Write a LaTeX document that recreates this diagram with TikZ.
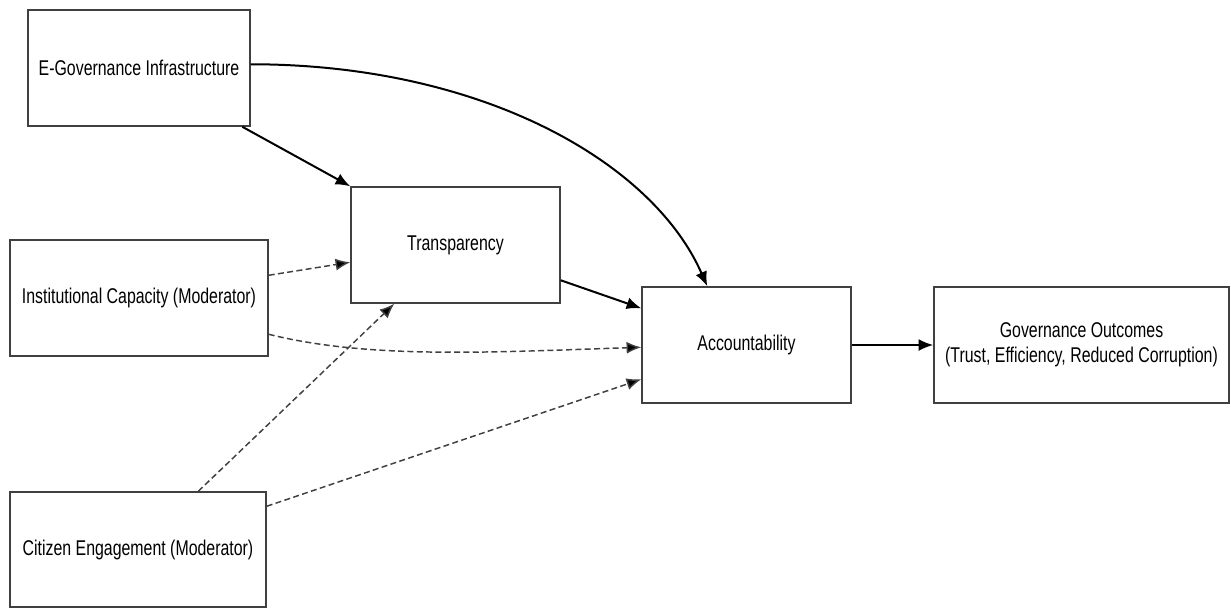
\documentclass[tikz,border=0pt]{standalone}
\usepackage{fontspec}
\setmainfont[FakeStretch=0.745]{Liberation Sans}
\usetikzlibrary{calc,arrows.meta}
\begin{document}
\begin{tikzpicture}[x=0.75pt,y=-0.75pt,
  box/.style={draw=black!75,line width=1.1pt,fill=white,inner sep=0pt,align=center,
    font=\fontsize{16}{19}\selectfont},
  solidarrow/.style={line width=1.5pt,-{Latex[length=11pt,width=9pt]}},
  dasharrow/.style={line width=1.1pt,draw=black!75,dash pattern=on 4.5pt off 2.5pt,
    -{Latex[length=11pt,width=9pt,fill=black]}}]
\useasboundingbox (0,0) rectangle (1231,608);
\node[box,minimum width=166.5pt,minimum height=87pt] (egov) at (139,68) {E-Governance Infrastructure};
\node[box,minimum width=156.75pt,minimum height=87pt] (trans) at (455.5,245) {Transparency};
\node[box,minimum width=193.5pt,minimum height=87pt] (inst) at (139,298) {Institutional Capacity (Moderator)};
\node[box,minimum width=156.75pt,minimum height=87pt] (acc) at (746.5,345) {Accountability};
\node[box,minimum width=221.25pt,minimum height=87pt] (out) at (1081.5,345) {Governance Outcomes\\(Trust, Efficiency, Reduced Corruption)};
\node[box,minimum width=192pt,minimum height=86.25pt] (cit) at (138,549.5) {Citizen Engagement (Moderator)};

\draw[solidarrow] ($(egov.south west)+(215,0)$) -- (trans.north west);
\draw[solidarrow] ($(egov.north east)+(0,55)$) .. controls +(230,0) and +(-55,-125) .. ($(acc.north west)+(66,0)$);
\draw[solidarrow] ($(trans.north east)+(0,94)$) -- ($(acc.north west)+(0,22)$);
\draw[solidarrow] (acc.east) -- (out.west);

\draw[dasharrow] ($(inst.north east)+(0,36)$) -- ($(trans.north west)+(0,76)$);
\draw[dasharrow] ($(inst.north east)+(0,95)$) .. controls +(100,25) and +(-150,5) .. ($(acc.north west)+(0,61)$);
\draw[dasharrow] ($(cit.north west)+(189,0)$) -- ($(trans.south west)+(44,0)$);
\draw[dasharrow] ($(cit.north east)+(0,15)$) -- ($(acc.north west)+(0,93)$);
\end{tikzpicture}
\end{document}
